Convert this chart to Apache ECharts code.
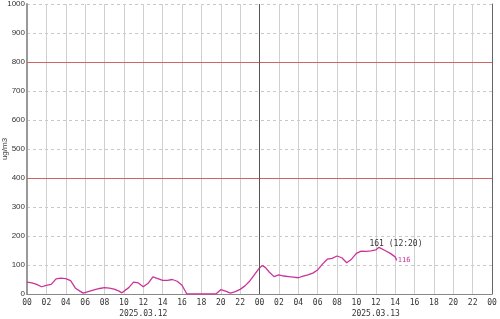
<!DOCTYPE html>
<html><head><meta charset="utf-8">
<script src="https://cdn.jsdelivr.net/npm/echarts@6/dist/echarts.min.js"></script>
<style>html,body{margin:0;padding:0;background:#fff}#c{width:500px;height:319px}</style>
</head><body><div id="c"></div>
<script>
// hours since 2025.03.12 00:00
var hours = [0,0.5,1,1.5,2,2.5,3,3.5,4,4.5,5,5.5,5.8,6,6.5,7,7.5,8,8.5,9,9.5,9.8,10,10.5,11,11.5,12,12.5,13,13.5,14,14.5,15,15.5,16,16.5,17,18,19,19.5,20,20.5,21,21.5,22,22.5,23,23.5,24,24.3,24.6,25,25.5,26,26.5,27,27.5,28,28.5,29,29.5,30,30.5,31,31.5,32,32.5,33,33.5,34,34.5,35,35.5,36,36.333,37,37.5,38,38.17];
var values = [41,38,33,25,30,33,52,55,53,46,20,9,3,5,10,15,19,22,20,17,10,4,5,22,41,38,25,37,59,53,47,47,50,44,30,0,0,0,0,0,15,10,3,8,16,28,45,68,90,98,92,76,60,66,62,60,58,56,62,66,72,83,103,120,123,131,125,108,120,140,148,147,149,152,161,149,140,128,116];
var dateLabels = {12:'2025.03.12', 36:'2025.03.13'};
var limits = [400, 800];
var peakLabel = '161 (12:20)';

var data = hours.map(function(h,i){return [h, values[i]];});
function pad(n){n = n % 24; return (n<10?'0':'')+n;}
var chart = echarts.init(document.getElementById('c'));
chart.setOption({
  animation:false,
  grid:{left:27,right:8,top:4,bottom:25,containLabel:false,outerBoundsMode:'none'},
  xAxis:{type:'value',min:0,max:48,interval:2,
    axisLine:{lineStyle:{color:'#888'}},
    axisTick:{show:false},
    splitLine:{show:true,lineStyle:{color:'#d0d0d0',type:'solid'}},
    axisLabel:{margin:3,fontFamily:'DejaVu Sans Mono',fontSize:8,color:'#333',lineHeight:11,
      formatter:function(v){return dateLabels[v] ? pad(v)+'\n'+dateLabels[v] : pad(v);}}
  },
  yAxis:[{type:'value',min:0,max:1000,interval:100,
    name:'ug/m3',nameLocation:'middle',nameRotate:90,nameGap:18,nameMoveOverlap:false,
    nameTextStyle:{fontFamily:'Liberation Sans',fontSize:8,color:'#444'},
    axisLine:{show:true,lineStyle:{color:'#999',width:2}},
    axisTick:{show:false},
    splitLine:{show:true,lineStyle:{color:'#c8c8c8',type:[3,3]}},
    axisLabel:{margin:2,fontFamily:'Liberation Sans',fontSize:8,color:'#333',
      formatter:function(v){return String(v);}}
  },{type:'value',min:0,max:1000,position:'right',
    axisLine:{show:true,lineStyle:{color:'#666',width:1}},
    axisTick:{show:false},axisLabel:{show:false},splitLine:{show:false}}],
  series:[{type:'line',data:data,showSymbol:false,symbol:'none',
    lineStyle:{color:'#cc3399',width:1.3},
    itemStyle:{color:'#cc3399'},
    endLabel:{show:true,formatter:function(p){return p.value[1];},color:'#cc3399',
      fontFamily:'DejaVu Sans Mono',fontSize:7,distance:1,offset:[0,0]},
    markPoint:{symbol:'circle',symbolSize:0,data:[{type:'max'}],
      label:{show:true,position:'top',formatter:peakLabel,color:'#333',
        fontFamily:'DejaVu Sans Mono',fontSize:8,distance:0,offset:[17,1]}},
    markLine:{symbol:'none',silent:true,label:{show:false},
      data:[{yAxis:limits[0],lineStyle:{color:'#cc6666',type:'solid',width:1}},
            {yAxis:limits[1],lineStyle:{color:'#cc6666',type:'solid',width:1}},
            {xAxis:24,lineStyle:{color:'#555',type:'solid',width:1}}]}
  }]
});
</script></body></html>
